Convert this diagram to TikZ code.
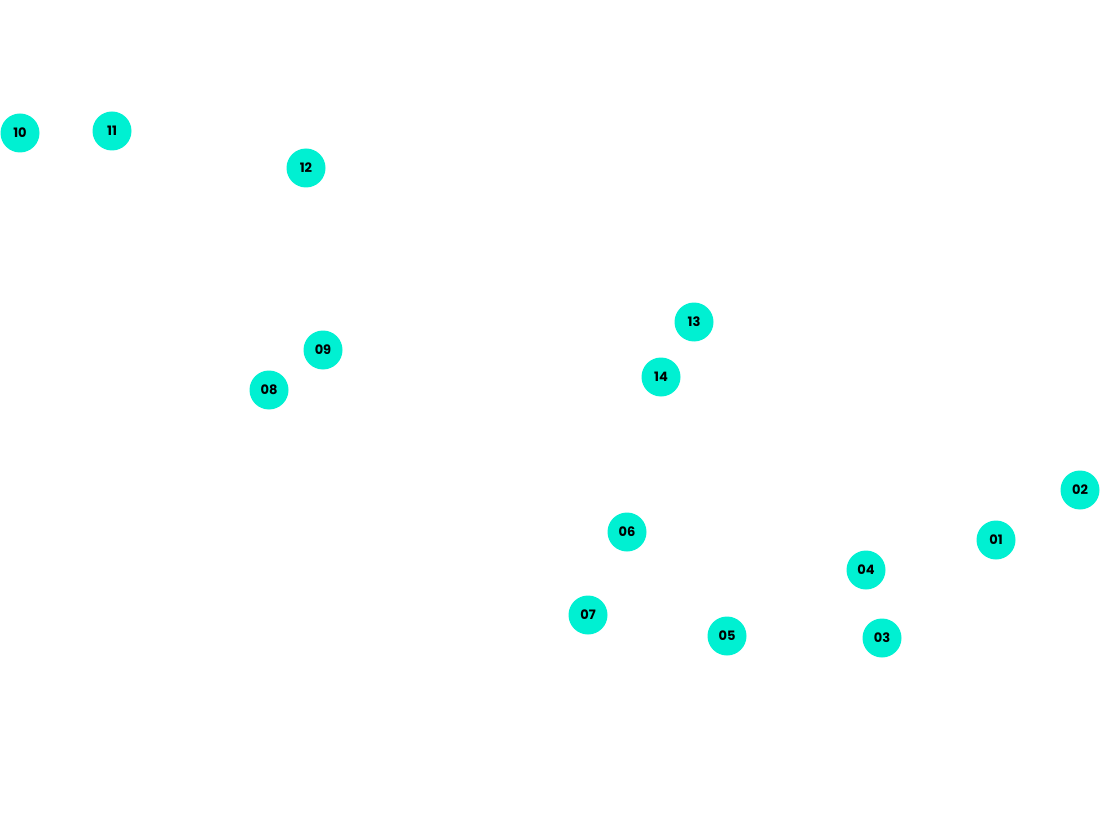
\documentclass[tikz,border=0pt]{standalone}
\usepackage{fontspec}
\setmainfont{Poppins}
\definecolor{tq}{HTML}{00F0D2}
\begin{document}
\begin{tikzpicture}[x=1pt,y=-1pt,
  pt/.style={circle,fill=tq,minimum size=39pt,inner sep=0pt,font=\bfseries\fontsize{13}{13}\selectfont}]
\useasboundingbox (0,0) rectangle (1100,818);
\foreach \n/\x/\y in {10/20/133,11/112/131,12/306/168,13/694/322,14/661/377,09/323/350,08/269/390,02/1080/490,01/996/540,06/627/532,04/866/570,07/588/615,05/727/636,03/882/638}
  \node[pt] (n\n) at (\x,\y) {\n};
\end{tikzpicture}
\end{document}
